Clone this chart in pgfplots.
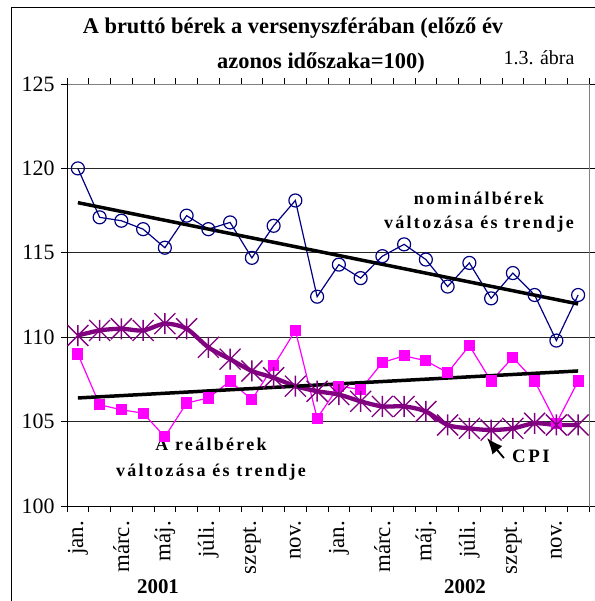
\documentclass[border=0pt]{standalone}
\usepackage{fontspec}
\setmainfont{Liberation Serif}
\usepackage{pgfplots}
\pgfplotsset{compat=1.18}
\usetikzlibrary{arrows.meta}
\definecolor{xlnavy}{RGB}{0,0,128}
\definecolor{xlmag}{RGB}{255,0,255}
\definecolor{xlpurp}{RGB}{128,0,128}
\pgfdeclareplotmark{xlstar}{%
  \pgfpathmoveto{\pgfqpoint{-\pgfplotmarksize}{-\pgfplotmarksize}}%
  \pgfpathlineto{\pgfqpoint{\pgfplotmarksize}{\pgfplotmarksize}}%
  \pgfpathmoveto{\pgfqpoint{-\pgfplotmarksize}{\pgfplotmarksize}}%
  \pgfpathlineto{\pgfqpoint{\pgfplotmarksize}{-\pgfplotmarksize}}%
  \pgfpathmoveto{\pgfqpoint{0pt}{-\pgfplotmarksize}}%
  \pgfpathlineto{\pgfqpoint{0pt}{\pgfplotmarksize}}%
  \pgfusepathqstroke}
\begin{document}
\begin{tikzpicture}
\useasboundingbox (-67bp,-95bp) rectangle (528bp,506bp);
\begin{axis}[
  at={(0,0)}, anchor=south west,
  width=522bp, height=422bp, scale only axis,
  xmin=0.5, xmax=24.5, ymin=100, ymax=125,
  ytick={100,105,...,125},
  extra y ticks={105,110,115,120},
  extra y tick labels={},
  extra y tick style={major tick length=0pt, grid=major, grid style={black!85, line width=0.7bp}},
  xtick={0.5,1.5,...,24.5}, xticklabels={},
  extra x ticks={1,3,...,23},
  extra x tick labels={jan.,márc.,máj.,júli.,szept.,nov.,jan.,márc.,máj.,júli.,szept.,nov.},
  extra x tick style={major tick length=0pt, tick label style={rotate=90, anchor=east, inner xsep=15bp, font=\fontsize{23}{23}\selectfont}},
  tick align=outside, major tick length=6bp,
  tick style={black, line width=0.7bp},
  axis line style={gray, line width=0.8bp},
  yticklabel style={font=\fontsize{22}{22}\selectfont, xshift=-3bp},
  /pgf/number format/assume math mode=true,
  clip=false,
]
\addplot[xlnavy, line width=1.2bp, mark=o, mark size=6.5bp, mark options={line width=1.2bp}] coordinates {
(1,120.0) (2,117.1) (3,116.9) (4,116.4) (5,115.3) (6,117.2) (7,116.4) (8,116.8) (9,114.7) (10,116.6) (11,118.1) (12,112.4)
(13,114.3) (14,113.5) (15,114.8) (16,115.5) (17,114.6) (18,113.0) (19,114.4) (20,112.3) (21,113.8) (22,112.5) (23,109.8) (24,112.5)};
\addplot[xlmag, line width=1.2bp, mark=square*, mark size=5bp] coordinates {
(1,109.0) (2,106.0) (3,105.7) (4,105.5) (5,104.1) (6,106.1) (7,106.4) (8,107.4) (9,106.3) (10,108.3) (11,110.4) (12,105.2)
(13,107.1) (14,106.9) (15,108.5) (16,108.9) (17,108.6) (18,107.9) (19,109.5) (20,107.4) (21,108.8) (22,107.4) (23,104.9) (24,107.4)};
\addplot[xlpurp, line width=4.3bp, smooth, tension=0.5, mark=xlstar, mark size=10.5bp, mark options={line width=1.3bp}] coordinates {
(1,110.1) (2,110.4) (3,110.5) (4,110.4) (5,110.8) (6,110.5) (7,109.4) (8,108.7) (9,108.0) (10,107.6) (11,107.1) (12,106.8)
(13,106.6) (14,106.2) (15,105.9) (16,105.9) (17,105.6) (18,104.8) (19,104.6) (20,104.5) (21,104.6) (22,104.9) (23,104.8) (24,104.8)};
\addplot[black, line width=3.5bp] coordinates {(1,117.97) (24,111.97)};
\addplot[black, line width=3.5bp] coordinates {(1,106.4) (24,108.0)};
\draw[black, line width=0.8bp] (rel axis cs:0,1) -- (rel axis cs:0,0) -- (rel axis cs:1,0);
\node[font=\bfseries\fontsize{18}{18}\selectfont\addfontfeature{LetterSpace=12}] at (axis cs:19.44,118.2) {nominálbérek};
\node[font=\bfseries\fontsize{18}{18}\selectfont\addfontfeature{LetterSpace=13}] at (axis cs:19.44,116.68) {változása és trendje};
\node[font=\bfseries\fontsize{18}{18}\selectfont\addfontfeature{LetterSpace=13}] at (axis cs:7.12,103.68) {A reálbérek};
\node[font=\bfseries\fontsize{18}{18}\selectfont\addfontfeature{LetterSpace=13}] at (axis cs:7.12,102.0) {változása és trendje};
\node[font=\bfseries\fontsize{19}{19}\selectfont\addfontfeature{LetterSpace=13}] at (axis cs:21.83,102.96) {CPI};
\draw[-{Latex[length=16bp,width=13bp]}, line width=1.8bp] (axis cs:20.59,102.84) -- (axis cs:19.81,104.03);
\end{axis}
\node[font=\bfseries\fontsize{22.5}{24}\selectfont] at (226bp,478bp) {A bruttó bérek a versenyszférában (előző év};
\node[font=\bfseries\fontsize{22.5}{24}\selectfont] at (254bp,443bp) {azonos időszaka=100)};
\node[font=\fontsize{20}{24}\selectfont] at (472bp,448bp) {1.3. ábra};
\node[font=\bfseries\fontsize{21}{24}\selectfont] at (91bp,-81bp) {2001};
\node[font=\bfseries\fontsize{21}{24}\selectfont] at (398bp,-81bp) {2002};
\draw[black, line width=1bp] (-55bp,-95bp) -- (-55bp,498bp) -- (528bp,498bp);
\end{tikzpicture}
\end{document}
